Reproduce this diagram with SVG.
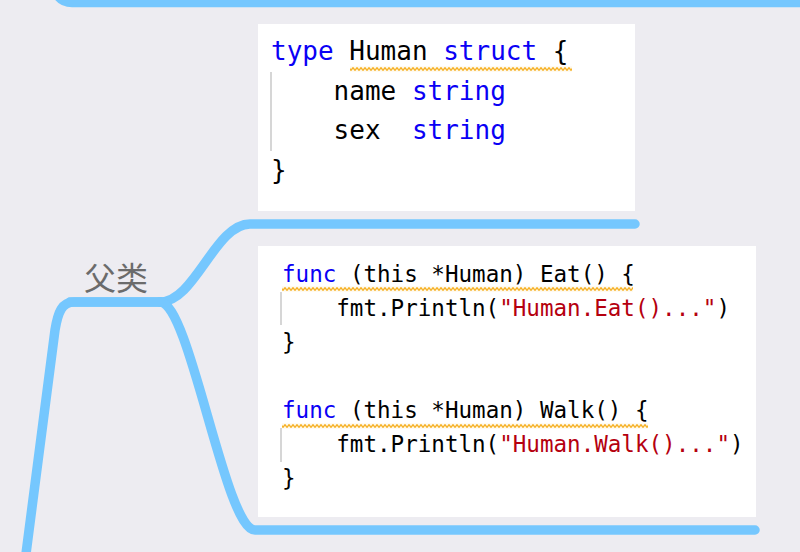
<svg xmlns="http://www.w3.org/2000/svg" width="800" height="552" viewBox="0 0 800 552">
  <defs>
    <pattern id="wave" width="4" height="5" patternUnits="userSpaceOnUse">
      <path d="M-2,2.5 Q-1,0 0,2.5 T2,2.5 T4,2.5 T6,2.5" fill="none" stroke="#f4a300" stroke-width="1.3"/>
    </pattern>
    <style>
      .bg { fill: #edecf1; }
      .box { fill: #ffffff; }
      .line { fill: none; stroke: #75c7fe; stroke-width: 9.5; stroke-linecap: round; stroke-linejoin: round; }
      .code { font-family: "DejaVu Sans Mono", "Liberation Mono", monospace; fill: #000000; white-space: pre; }
      .c1 { font-size: 26px; }
      .c2 { font-size: 22.55px; }
      .kw { fill: #0a00f5; }
      .str { fill: #b5000f; }
      .bar { stroke: #c9c9c9; stroke-width: 1.5; }
      .label { font-family: "Noto Sans CJK SC", "Noto Sans", sans-serif; font-size: 32px; fill: #6b6b6b; }
    </style>
  </defs>

  <rect class="bg" x="0" y="0" width="800" height="552"/>

  <g id="connectors">
    <path class="line" d="M45,-60 C52,-8 56,2.5 72,2.5 H810"/>
    <path class="line" d="M160,302 H74 C62,302 58,312 55,330 C48,380 36,480 20,600"/>
    <path class="line" d="M160,302 C195,302 215,224 250,224 H635"/>
    <path class="line" d="M160,302 C190,302 225,530 255,530 H755"/>
  </g>

  <g id="node-fulei">
    <path class="line" d="M70,302 H160"/>
    <text class="label" x="116" y="290" text-anchor="middle">父类</text>
  </g>

  <g id="node-struct">
    <rect class="box" x="258" y="24" width="377" height="187"/>
    <line class="bar" x1="271" y1="72" x2="271" y2="151"/>
    <rect transform="translate(350,66.5)" width="222" height="5" fill="url(#wave)"/>
    <text class="code c1" x="271" y="60"><tspan class="kw">type</tspan> Human <tspan class="kw">struct</tspan> {</text>
    <text class="code c1" x="271" y="99.7">    name <tspan class="kw">string</tspan></text>
    <text class="code c1" x="271" y="139.4">    sex  <tspan class="kw">string</tspan></text>
    <text class="code c1" x="271" y="179">}</text>
  </g>

  <g id="node-methods">
    <rect class="box" x="258" y="246" width="498" height="271"/>
    <line class="bar" x1="281" y1="292" x2="281" y2="325"/>
    <line class="bar" x1="281" y1="428" x2="281" y2="462"/>
    <rect transform="translate(282,286.5)" width="351" height="5" fill="url(#wave)"/>
    <rect transform="translate(282,423.5)" width="366" height="5" fill="url(#wave)"/>
    <text class="code c2" x="282" y="282"><tspan class="kw">func</tspan> (this *Human) Eat() {</text>
    <text class="code c2" x="282" y="316">    fmt.Println(<tspan class="str">"Human.Eat()..."</tspan>)</text>
    <text class="code c2" x="282" y="350">}</text>
    <text class="code c2" x="282" y="418"><tspan class="kw">func</tspan> (this *Human) Walk() {</text>
    <text class="code c2" x="282" y="452">    fmt.Println(<tspan class="str">"Human.Walk()..."</tspan>)</text>
    <text class="code c2" x="282" y="486">}</text>
  </g>
</svg>
